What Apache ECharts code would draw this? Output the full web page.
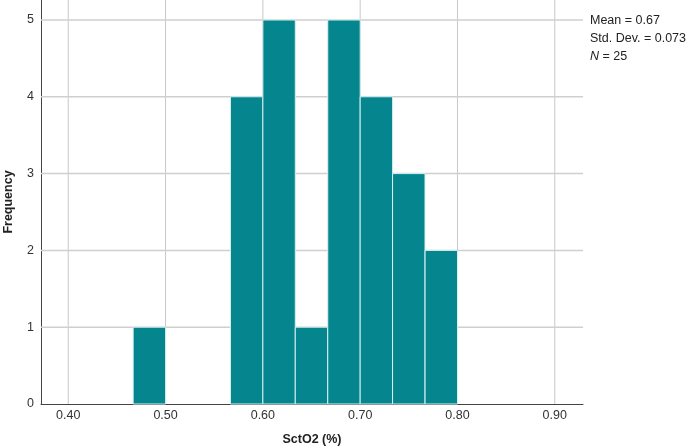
<!DOCTYPE html>
<html>
<head>
<meta charset="utf-8">
<script src="https://cdn.jsdelivr.net/npm/echarts@6/dist/echarts.min.js"></script>
<style>html,body{margin:0;padding:0;background:#fff}#c{width:692px;height:446px}</style>
</head>
<body>
<div id="c"></div>
<script>
const binStarts = [0.4667, 0.5667, 0.6, 0.6333, 0.6667, 0.7, 0.7333, 0.7667];
const counts = [1, 4, 5, 1, 5, 4, 3, 2];
const binWidth = 1 / 30;
const xTicks = [0.4, 0.5, 0.6, 0.7, 0.8, 0.9];
const yTicks = [0, 1, 2, 3, 4, 5];
const stats = { mean: '0.67', sd: '0.073', n: '25' };

const chart = echarts.init(document.getElementById('c'));
const font = 'Liberation Sans, Arial, sans-serif';
chart.setOption({
  animation: false,
  grid: { left: 41, right: 109, top: 0, bottom: 42, containLabel: false, outerBoundsMode: 'none' },
  xAxis: {
    type: 'value', min: 0.372, max: 0.929,
    name: 'SctO2 (%)', nameLocation: 'middle', nameGap: 29,
    nameTextStyle: { fontFamily: font, fontWeight: 'bold', fontSize: 12.5, color: '#222' },
    axisLine: { show: true, lineStyle: { color: '#444', width: 1 } },
    axisTick: { show: false },
    splitLine: { show: false },
    axisLabel: { show: false }
  },
  yAxis: {
    type: 'value', min: 0, max: 5.26,
    name: 'Frequency', nameLocation: 'middle', nameGap: 26,
    nameTextStyle: { fontFamily: font, fontWeight: 'bold', fontSize: 12.5, color: '#222' },
    axisLine: { show: true, lineStyle: { color: '#444', width: 1 } },
    axisTick: { show: false },
    splitLine: { show: false },
    axisLabel: { show: false }
  },
  series: [
    {
      type: 'custom',
      silent: true,
      z: 1,
      data: xTicks.map(v => [v]),
      renderItem: function (params, api) {
        const p0 = api.coord([api.value(0), 0]);
        const top = params.coordSys.y;
        return {
          type: 'group',
          children: [
            { type: 'line', shape: { x1: p0[0], y1: top, x2: p0[0], y2: p0[1] }, style: { stroke: '#c8c8c8', lineWidth: 1 } },
            { type: 'text', style: { text: api.value(0).toFixed(2), x: p0[0], y: p0[1] + 12, align: 'center', verticalAlign: 'middle', fontFamily: font, fontSize: 12.5, fill: '#333' } }
          ]
        };
      }
    },
    {
      type: 'custom',
      silent: true,
      z: 1,
      data: yTicks.map(v => [v]),
      renderItem: function (params, api) {
        const p0 = api.coord([0.372, api.value(0)]);
        const right = params.coordSys.x + params.coordSys.width;
        const children = [
          { type: 'text', style: { text: String(api.value(0)), x: p0[0] - 7, y: p0[1], align: 'right', verticalAlign: 'middle', fontFamily: font, fontSize: 12.5, fill: '#333' } }
        ];
        if (api.value(0) > 0) {
          children.push({ type: 'line', shape: { x1: p0[0], y1: p0[1], x2: right, y2: p0[1] }, style: { stroke: '#cfcfcf', lineWidth: 1.5 } });
        }
        return { type: 'group', children };
      }
    },
    {
      type: 'custom',
      z: 3,
      data: binStarts.map((s, i) => [s, s + binWidth, counts[i]]),
      renderItem: function (params, api) {
        const a = api.coord([api.value(0), api.value(2)]);
        const b = api.coord([api.value(1), 0]);
        return {
          type: 'rect',
          shape: { x: a[0], y: a[1], width: b[0] - a[0], height: b[1] - a[1] },
          style: { fill: '#05868f', stroke: '#d8f0f0', lineWidth: 1 }
        };
      }
    }
  ],
  graphic: [
    {
      type: 'text', left: 590, top: 12,
      style: {
        text: 'Mean = ' + stats.mean + '\nStd. Dev. = ' + stats.sd + '\n{i|N} = ' + stats.n,
        fontFamily: font, fontSize: 12.5, fill: '#222', lineHeight: 18,
        rich: { i: { fontStyle: 'italic', fontFamily: font, fontSize: 12.5, fill: '#222' } }
      }
    }
  ]
});
</script>
</body>
</html>
